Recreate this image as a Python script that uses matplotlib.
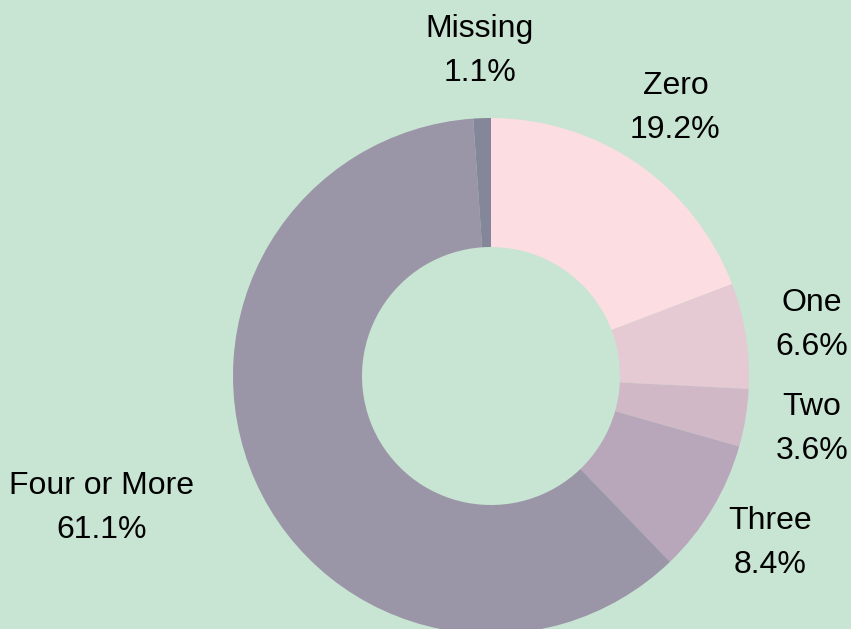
import matplotlib.pyplot as plt

categories = ["Zero", "One", "Two", "Three", "Four or More", "Missing"]
shares = [19.2, 6.6, 3.6, 8.4, 61.1, 1.1]
colors = ["#FCDDE1", "#E5CAD4", "#D0B8C7", "#B8A6BA", "#9B95A8", "#848799"]
bg = "#C8E4D2"

W, H = 851, 629
cx, cy, R = 491, 376, 258

plt.rcParams['font.family'] = ['Liberation Sans', 'DejaVu Sans']

fig = plt.figure(figsize=(W / 100, H / 100), dpi=100, facecolor=bg)
ax = fig.add_axes([0, 0, 1, 1])
ax.set_facecolor(bg)

labels = [f"{c}\n{v}%" for c, v in zip(categories, shares)]
wedges, texts = ax.pie(shares, labels=labels, colors=colors, startangle=90,
                       counterclock=False, radius=1, labeldistance=1.26,
                       wedgeprops=dict(width=0.5, linewidth=0),
                       textprops=dict(fontsize=23, color="black",
                                      linespacing=1.62))

big = shares.index(max(shares))
for i, t in enumerate(texts):
    t.set_multialignment("center")
    if i != big:
        t.set_ha("center")

ax.set_xlim(-cx / R, (W - cx) / R)
ax.set_ylim(-(H - cy) / R, cy / R)
ax.set_aspect("equal")
ax.axis("off")

fig.savefig("out.png", dpi=100, facecolor=bg)
